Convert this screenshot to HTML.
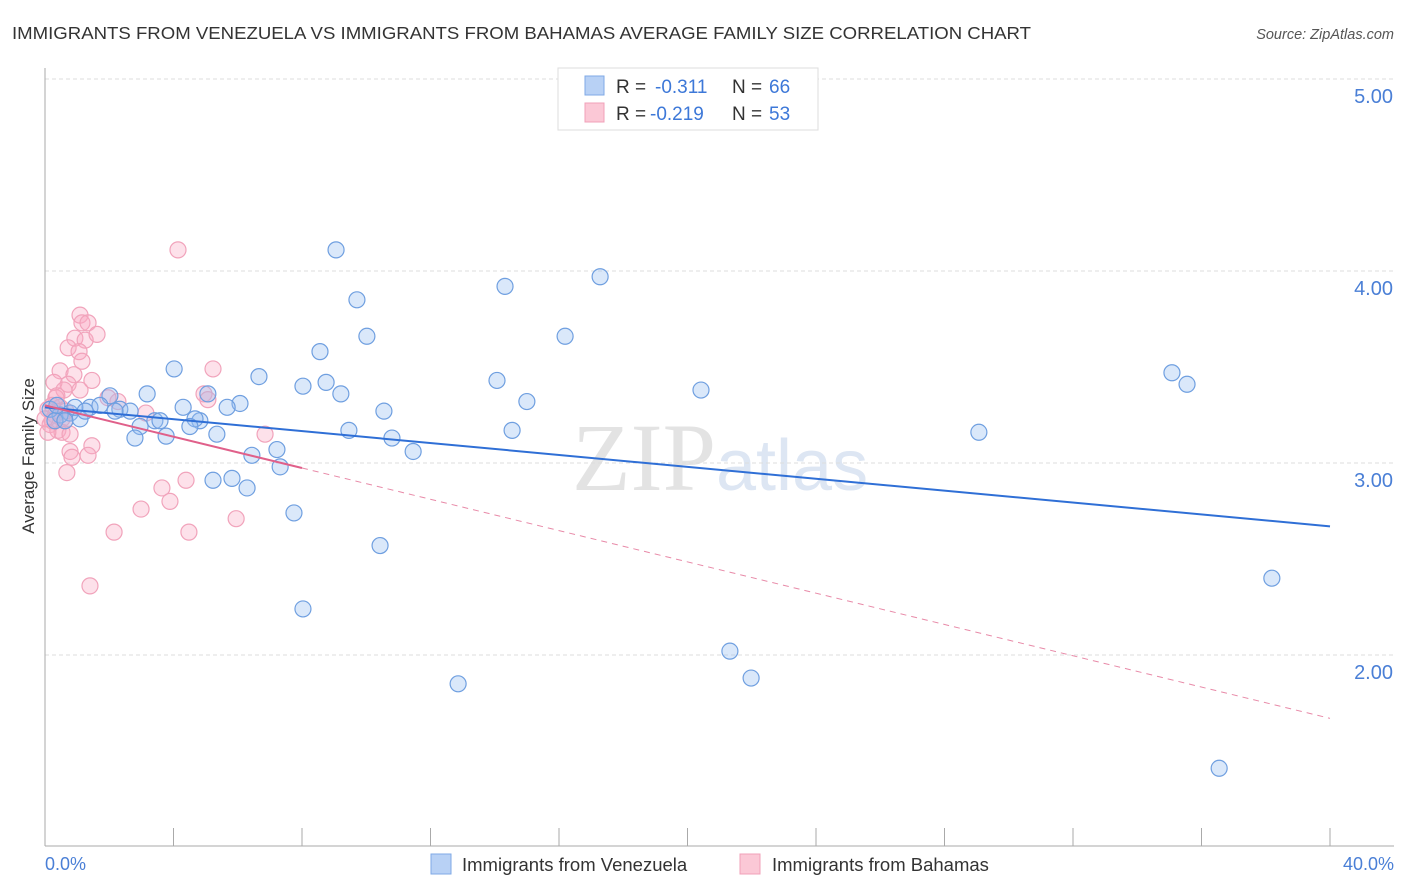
<!DOCTYPE html>
<html><head><meta charset="utf-8"><style>
body{margin:0;background:#fff;font-family:"Liberation Sans",sans-serif;}
#wrap{position:relative;width:1406px;height:892px;overflow:hidden;}
</style></head><body>
<div id="wrap">
<svg id="svg" width="1406" height="892" xmlns="http://www.w3.org/2000/svg">
<text x="12" y="39" font-size="17.5" fill="#333" textLength="1019" lengthAdjust="spacingAndGlyphs">IMMIGRANTS FROM VENEZUELA VS IMMIGRANTS FROM BAHAMAS AVERAGE FAMILY SIZE CORRELATION CHART</text>
<text x="1394" y="39" font-size="14.5" fill="#555" font-style="italic" text-anchor="end">Source: ZipAtlas.com</text>
<text x="716" y="490" font-size="96" fill="#e3e3e3" text-anchor="end" font-family="Liberation Serif,serif">ZIP</text>
<text x="716" y="490" font-size="72" fill="#dde6f3">atlas</text>
<g id="grid"></g>
<line x1="45" y1="68" x2="45" y2="846" stroke="#aaa"/>
<line x1="45" y1="846" x2="1394" y2="846" stroke="#aaa"/>
<text transform="translate(34,456) rotate(-90)" font-size="17" fill="#333" text-anchor="middle">Average Family Size</text>
<text x="45" y="870" font-size="18" fill="#4a7fd6">0.0%</text>
<text x="1394" y="870" font-size="18" fill="#4a7fd6" text-anchor="end">40.0%</text>
<g id="pts"></g>
<g id="trend"></g>
<g>
<rect x="558" y="68" width="260" height="62" fill="#fff" stroke="#ddd"/>
<rect x="585" y="76" width="19" height="19" fill="#b8d1f5" stroke="#7fa9e6"/>
<rect x="585" y="103" width="19" height="19" fill="#fbc8d6" stroke="#f0a0b8"/>
<text x="616" y="93" font-size="19" fill="#333">R =</text>
<text x="655" y="93" font-size="19" fill="#3d78d8">-0.311</text>
<text x="732" y="93" font-size="19" fill="#333">N =</text>
<text x="769" y="93" font-size="19" fill="#3d78d8">66</text>
<text x="616" y="120" font-size="19" fill="#333">R =</text>
<text x="650" y="120" font-size="19" fill="#3d78d8">-0.219</text>
<text x="732" y="120" font-size="19" fill="#333">N =</text>
<text x="769" y="120" font-size="19" fill="#3d78d8">53</text>
</g>
<g>
<rect x="431" y="854" width="20" height="20" fill="#b8d1f5" stroke="#7fa9e6"/>
<text x="462" y="871" font-size="18.5" fill="#333">Immigrants from Venezuela</text>
<rect x="740" y="854" width="20" height="20" fill="#fbc8d6" stroke="#f0a0b8"/>
<text x="772" y="871" font-size="18.5" fill="#333">Immigrants from Bahamas</text>
</g>
</svg>
</div>
<script>
const yTicks=[2,3,4,5];
const yTickLabels=["2.00","3.00","4.00","5.00"];
const xTicks=[0,4,8,12,16,20,24,28,32,36,40];
const venX=[9.06,17.28,14.32,9.71,10.02,16.19,8.56,4.02,6.66,14.07,35.08,35.55,8.03,8.75,9.21,20.42,3.18,2.02,5.07,15.00,6.07,5.67,4.30,10.55,1.40,1.71,2.33,2.65,0.78,0.47,1.09,3.42,3.58,4.82,4.67,4.51,2.96,5.35,9.46,14.54,29.07,10.80,2.80,3.77,7.22,11.46,6.44,7.32,5.23,5.82,6.29,7.75,10.43,38.19,8.03,21.32,12.86,21.98,36.55,0.16,0.31,0.62,0.93,1.25,2.18,0.37];
const venY=[4.11,3.97,3.92,3.85,3.66,3.66,3.58,3.49,3.45,3.43,3.47,3.41,3.40,3.42,3.36,3.38,3.36,3.35,3.36,3.32,3.31,3.29,3.29,3.27,3.29,3.30,3.28,3.27,3.26,3.25,3.23,3.22,3.22,3.22,3.23,3.19,3.19,3.15,3.17,3.17,3.16,3.13,3.13,3.14,3.07,3.06,3.04,2.98,2.91,2.92,2.87,2.74,2.57,2.40,2.24,2.02,1.85,1.88,1.41,3.28,3.22,3.22,3.29,3.27,3.27,3.30];
const bahX=[4.14,1.09,1.15,1.34,0.93,1.25,1.62,0.72,1.06,1.15,0.47,0.90,1.46,0.72,0.28,0.59,1.09,5.23,4.95,5.07,2.27,3.14,0.34,0.22,0.47,0.09,0.31,0.62,0.16,0.40,0.53,0.09,1.46,6.85,0.78,1.34,0.84,0.68,3.64,4.39,3.89,2.99,5.95,2.15,4.48,1.40,1.96,0.37,0.53,0.22,0.65,0.00,0.78];
const bahY=[4.11,3.77,3.73,3.73,3.65,3.64,3.67,3.60,3.58,3.53,3.48,3.46,3.43,3.41,3.42,3.38,3.38,3.49,3.36,3.33,3.32,3.26,3.34,3.30,3.29,3.28,3.25,3.22,3.20,3.17,3.16,3.16,3.09,3.15,3.06,3.04,3.03,2.95,2.87,2.91,2.80,2.76,2.71,2.64,2.64,2.36,3.34,3.35,3.23,3.22,3.27,3.23,3.15];
const venTrend=[3.29,2.67];
const bahTrend=[3.30,1.67];
const bahSolidEnd=8;
const NS="http://www.w3.org/2000/svg";
const sx=v=>45+v*(1285/40);
const sy=v=>79+(5-v)*192;
function mk(t,a,p){const e=document.createElementNS(NS,t);for(const k in a)e.setAttribute(k,a[k]);p.appendChild(e);return e;}
const grid=document.getElementById('grid');
yTicks.forEach((t,i)=>{
  const l=mk('line',{x1:45,x2:1394,y1:sy(t),y2:sy(t),stroke:'#ddd','stroke-dasharray':'4,3'},grid);
  
  
  const tx=mk('text',{x:1393,y:sy(t)+24,'font-size':20,fill:'#4a7fd6','text-anchor':'end'},grid);
  tx.textContent=yTickLabels[i];
  
  
});
xTicks.forEach(t=>{
  const l=mk('line',{x1:sx(t),x2:sx(t),y1:828,y2:846,stroke:'#aaa'},grid);
  
  
});
const pts=document.getElementById('pts');
bahX.forEach((x,i)=>{
  const c=mk('circle',{cx:sx(x),cy:sy(bahY[i]),r:8,fill:'rgba(248,170,195,0.35)',stroke:'#f1a3bb','stroke-width':1.2},pts);
  
  
});
venX.forEach((x,i)=>{
  const c=mk('circle',{cx:sx(x),cy:sy(venY[i]),r:8,fill:'rgba(150,190,240,0.35)',stroke:'#6f9fe0','stroke-width':1.2},pts);
  
  
});
const tr=document.getElementById('trend');
const bl=mk('line',{x1:sx(0),y1:sy(venTrend[0]),x2:sx(40),y2:sy(venTrend[1]),stroke:'#2f6fd6','stroke-width':2},tr);


const bAt=x=>bahTrend[0]+(bahTrend[1]-bahTrend[0])*x/40;
const ps=mk('line',{x1:sx(0),y1:sy(bAt(0)),x2:sx(bahSolidEnd),y2:sy(bAt(bahSolidEnd)),stroke:'#e0608a','stroke-width':2},tr);


const pd=mk('line',{x1:sx(bahSolidEnd),y1:sy(bAt(bahSolidEnd)),x2:sx(40),y2:sy(bAt(40)),stroke:'#e88aa8','stroke-width':1,'stroke-dasharray':'6,5'},tr);


</script>
</body></html>
